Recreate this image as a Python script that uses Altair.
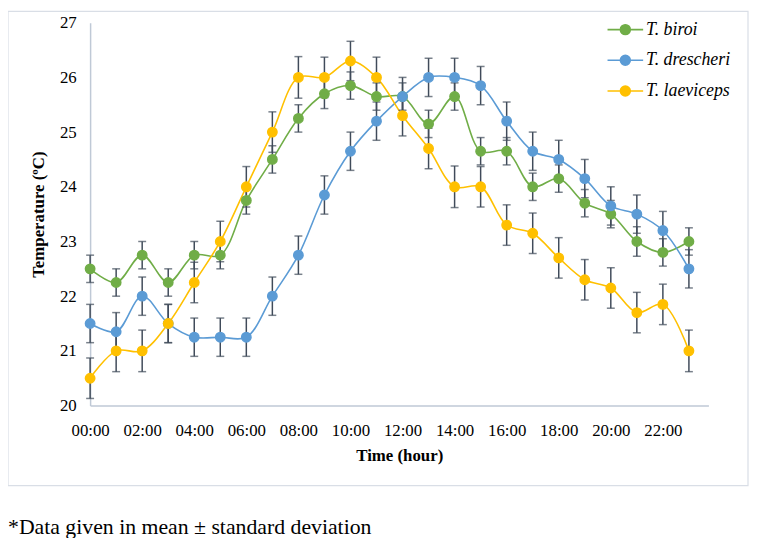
import altair as alt
import pandas as pd

hours = list(range(24))
species = ["T. biroi", "T. drescheri", "T. laeviceps"]
colors = ["#70AD47", "#5B9BD5", "#FFC000"]

biroi = [22.5, 22.25, 22.75, 22.25, 22.75, 22.75, 23.75, 24.5, 25.25, 25.7, 25.85, 25.65,
         25.65, 25.15, 25.65, 24.65, 24.65, 24.0, 24.15, 23.7, 23.5, 23.0, 22.8, 23.0]
drescheri = [21.5, 21.35, 22.0, 21.5, 21.25, 21.25, 21.25, 22.0, 22.75, 23.85, 24.65, 25.2,
             25.65, 26.0, 26.0, 25.85, 25.2, 24.65, 24.5, 24.15, 23.65, 23.5, 23.2, 22.5]
laeviceps = [20.5, 21.0, 21.0, 21.5, 22.25, 23.0, 24.0, 25.0, 26.0, 26.0, 26.3, 26.0,
             25.3, 24.7, 24.0, 24.0, 23.3, 23.15, 22.7, 22.3, 22.15, 21.7, 21.85, 21.0]
sd_biroi = [0.25, 0.25, 0.25, 0.25, 0.25, 0.25, 0.25, 0.25, 0.25, 0.27, 0.25, 0.25,
            0.25, 0.25, 0.25, 0.25, 0.25, 0.25, 0.25, 0.25, 0.25, 0.27, 0.25, 0.25]
sd_drescheri = [0.35] * 24
sd_laeviceps = [0.37, 0.38, 0.38, 0.35, 0.37, 0.37, 0.37, 0.37, 0.38, 0.37, 0.36, 0.37,
                0.37, 0.37, 0.38, 0.37, 0.37, 0.37, 0.37, 0.37, 0.37, 0.37, 0.37, 0.38]

rows = []
for name, vals, sds in zip(species, [biroi, drescheri, laeviceps],
                           [sd_biroi, sd_drescheri, sd_laeviceps]):
    for h, v, s in zip(hours, vals, sds):
        rows.append({"hour": h, "species": name, "temp": v, "lo": v - s, "hi": v + s})
df = pd.DataFrame(rows)

FONT = "Liberation Serif"
W, H = 625, 387

xs = alt.Scale(domain=[0, 23.75], nice=False)
ys = alt.Scale(domain=[20, 27], nice=False)
cscale = alt.Scale(domain=species, range=colors)

x_axis = alt.Axis(values=list(range(0, 24, 2)),
                  labelExpr="(datum.value < 10 ? '0' : '') + datum.value + ':00'",
                  labelOverlap=False, labelFlush=False,
                  title="Time (hour)", grid=False, ticks=False, labelPadding=17,
                  titlePadding=10, domainColor="#BFC9D6", domainWidth=1.5)
y_axis = alt.Axis(values=list(range(20, 28)), format="d", title="Temperature (ºC)", grid=False,
                  ticks=False, labelPadding=14, titlePadding=12, labelOverlap=False,
                  labelFlush=False, domainColor="#BFC9D6", domainWidth=1.5)

legend = alt.Legend(title=None, orient="none", legendX=530, legendY=-4,
                    symbolType="M-1.8,0L1.8,0M0.5,0A0.5,0.5,0,1,1,-0.5,0A0.5,0.5,0,1,1,0.5,0Z",
                    symbolSize=400, symbolStrokeWidth=1.6,
                    labelFont=FONT, labelFontStyle="italic",
                    labelFontSize=18, labelColor="black",
                    labelOffset=10, rowPadding=11, padding=0)

base = alt.Chart(df)

lines = base.mark_line(interpolate="catmull-rom", strokeWidth=1.6).encode(
    x=alt.X("hour:Q", scale=xs, axis=x_axis),
    y=alt.Y("temp:Q", scale=ys, axis=y_axis),
    stroke=alt.Stroke("species:N", scale=cscale, legend=legend),
    detail="species:N",
)

err_rule = base.mark_rule(color="#404B5A", strokeWidth=1.5).encode(
    x="hour:Q", y="lo:Q", y2="hi:Q")
err_top = base.mark_tick(color="#404B5A", thickness=1.5, size=8, orient="horizontal").encode(
    x="hour:Q", y="hi:Q")
err_bot = base.mark_tick(color="#404B5A", thickness=1.5, size=8, orient="horizontal").encode(
    x="hour:Q", y="lo:Q")

points = base.mark_point(filled=True, size=90, opacity=1, strokeWidth=1.5).encode(
    x="hour:Q",
    y="temp:Q",
    fill=alt.Fill("species:N", scale=cscale, legend=legend),
    stroke=alt.Stroke("species:N", scale=cscale, legend=legend),
)

frame = alt.Chart(pd.DataFrame({"a": [0]})).mark_rect(
    fill=None, stroke="#D9DEE6", strokeWidth=1.2).encode(
    x=alt.value(-83), x2=alt.value(665), y=alt.value(-11.4), y2=alt.value(468))

note = alt.Chart(pd.DataFrame({"t": ["*Data given in mean ± standard deviation"]})).mark_text(
    align="left", baseline="middle", font=FONT, fontSize=22, color="black").encode(
    x=alt.value(-83), y=alt.value(510), text="t:N")

chart = alt.layer(frame, lines, err_rule, err_top, err_bot, points, note).properties(
    width=W, height=H,
    autosize=alt.AutoSizeParams(type="none"),
    padding={"left": 83, "top": 12, "right": 41, "bottom": 131},
).configure(background="white").configure_view(stroke=None).configure_axis(
    labelFont=FONT, labelFontSize=17, labelColor="black",
    titleFont=FONT, titleFontSize=17, titleFontWeight="bold", titleColor="black",
)

chart.save("out.html", embed_options={"renderer": "svg", "actions": False})
